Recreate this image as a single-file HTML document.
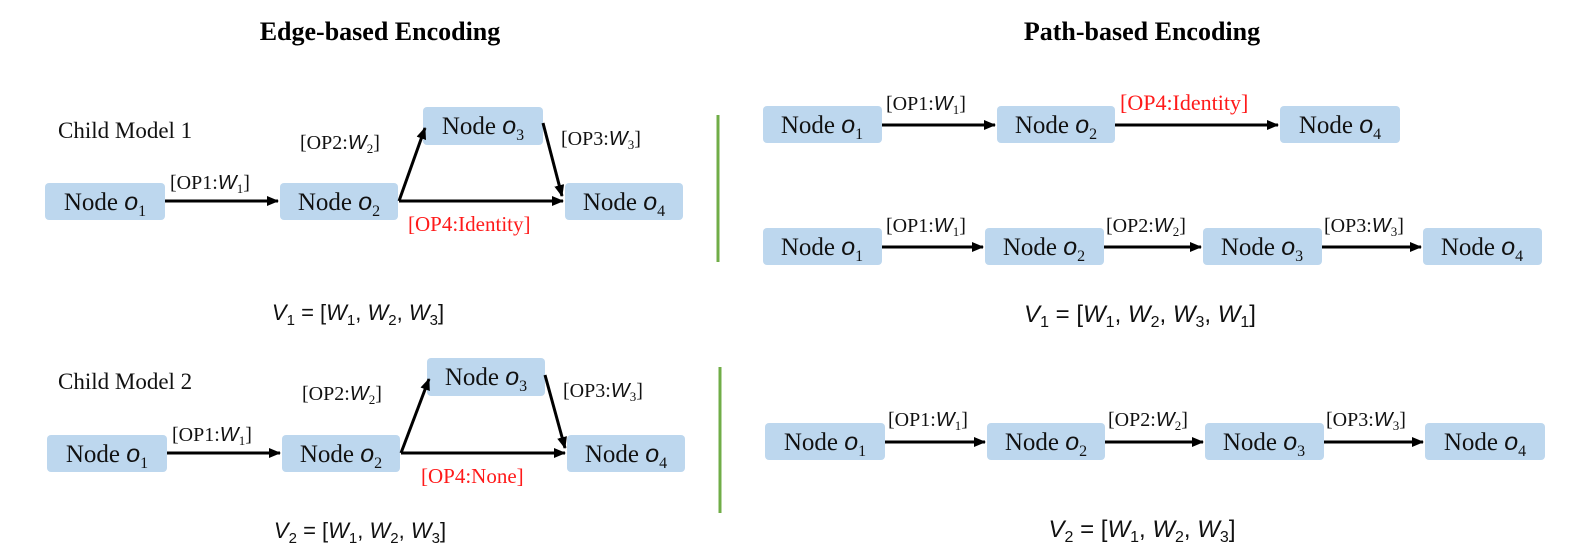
<!DOCTYPE html>
<html><head><meta charset="utf-8"><style>
html,body{margin:0;padding:0;background:#fff;}
svg{display:block;}
.n{font-family:"Liberation Serif",serif;font-size:25px;fill:#111;}
.i{font-family:"Liberation Sans",sans-serif;font-style:italic;}
.l{font-family:"Liberation Serif",serif;font-size:20px;fill:#111;}
.r{fill:#ff1a1a;}
.t{font-family:"Liberation Serif",serif;font-size:26px;font-weight:bold;fill:#000;}
.c{font-family:"Liberation Serif",serif;font-size:23px;fill:#111;}
.f{font-family:"Liberation Sans",sans-serif;font-size:22px;fill:#111;}
</style></head><body>
<svg width="1585" height="557" viewBox="0 0 1585 557" xmlns="http://www.w3.org/2000/svg">
<defs>
<marker id="a" markerWidth="12" markerHeight="10" refX="11" refY="5" orient="auto" markerUnits="userSpaceOnUse">
<path d="M0,0 L12,5 L0,10 z" fill="#000"/></marker>
</defs>
<g fill="#bdd7ee">
<rect x="45" y="183" width="120" height="37" rx="4"/>
<rect x="280" y="183" width="118" height="37" rx="4"/>
<rect x="423" y="107" width="120" height="38" rx="4"/>
<rect x="565" y="183" width="118" height="37" rx="4"/>
<rect x="47" y="435" width="120" height="37" rx="4"/>
<rect x="282" y="435" width="118" height="37" rx="4"/>
<rect x="427" y="358" width="118" height="38" rx="4"/>
<rect x="567" y="435" width="118" height="37" rx="4"/>
<rect x="763" y="106" width="119" height="37" rx="4"/>
<rect x="997" y="106" width="118" height="37" rx="4"/>
<rect x="1280" y="106" width="120" height="37" rx="4"/>
<rect x="763" y="228" width="119" height="37" rx="4"/>
<rect x="985" y="228" width="119" height="37" rx="4"/>
<rect x="1203" y="228" width="119" height="37" rx="4"/>
<rect x="1423" y="228" width="119" height="37" rx="4"/>
<rect x="765" y="423" width="120" height="37" rx="4"/>
<rect x="987" y="423" width="118" height="37" rx="4"/>
<rect x="1205" y="423" width="119" height="37" rx="4"/>
<rect x="1425" y="423" width="120" height="37" rx="4"/>
</g>

<g class="n" text-anchor="middle">
<text x="105" y="210">Node <tspan class="i">o</tspan><tspan font-size="16" dy="6">1</tspan></text>
<text x="339" y="210">Node <tspan class="i">o</tspan><tspan font-size="16" dy="6">2</tspan></text>
<text x="483" y="134">Node <tspan class="i">o</tspan><tspan font-size="16" dy="6">3</tspan></text>
<text x="624" y="210">Node <tspan class="i">o</tspan><tspan font-size="16" dy="6">4</tspan></text>
<text x="107" y="462">Node <tspan class="i">o</tspan><tspan font-size="16" dy="6">1</tspan></text>
<text x="341" y="462">Node <tspan class="i">o</tspan><tspan font-size="16" dy="6">2</tspan></text>
<text x="486" y="385">Node <tspan class="i">o</tspan><tspan font-size="16" dy="6">3</tspan></text>
<text x="626" y="462">Node <tspan class="i">o</tspan><tspan font-size="16" dy="6">4</tspan></text>
<text x="822" y="133">Node <tspan class="i">o</tspan><tspan font-size="16" dy="6">1</tspan></text>
<text x="1056" y="133">Node <tspan class="i">o</tspan><tspan font-size="16" dy="6">2</tspan></text>
<text x="1340" y="133">Node <tspan class="i">o</tspan><tspan font-size="16" dy="6">4</tspan></text>
<text x="822" y="255">Node <tspan class="i">o</tspan><tspan font-size="16" dy="6">1</tspan></text>
<text x="1044" y="255">Node <tspan class="i">o</tspan><tspan font-size="16" dy="6">2</tspan></text>
<text x="1262" y="255">Node <tspan class="i">o</tspan><tspan font-size="16" dy="6">3</tspan></text>
<text x="1482" y="255">Node <tspan class="i">o</tspan><tspan font-size="16" dy="6">4</tspan></text>
<text x="825" y="450">Node <tspan class="i">o</tspan><tspan font-size="16" dy="6">1</tspan></text>
<text x="1046" y="450">Node <tspan class="i">o</tspan><tspan font-size="16" dy="6">2</tspan></text>
<text x="1264" y="450">Node <tspan class="i">o</tspan><tspan font-size="16" dy="6">3</tspan></text>
<text x="1485" y="450">Node <tspan class="i">o</tspan><tspan font-size="16" dy="6">4</tspan></text>
</g>

<g stroke="#000" stroke-width="3" fill="none" marker-end="url(#a)">
<line x1="165" y1="201" x2="278" y2="201"/>
<line x1="399" y1="201" x2="425" y2="128"/>
<line x1="543" y1="123" x2="562" y2="196"/>
<line x1="399" y1="201" x2="563" y2="201"/>
<line x1="167" y1="453" x2="280" y2="453"/>
<line x1="401" y1="453" x2="429" y2="379"/>
<line x1="545" y1="375" x2="565" y2="448"/>
<line x1="401" y1="453" x2="565" y2="453"/>
<line x1="882" y1="125" x2="995" y2="125"/>
<line x1="1115" y1="125" x2="1278" y2="125"/>
<line x1="882" y1="247" x2="983" y2="247"/>
<line x1="1104" y1="247" x2="1201" y2="247"/>
<line x1="1322" y1="247" x2="1421" y2="247"/>
<line x1="885" y1="442" x2="985" y2="442"/>
<line x1="1105" y1="442" x2="1203" y2="442"/>
<line x1="1324" y1="442" x2="1423" y2="442"/>
</g>

<g class="l">
<text x="170" y="189">[OP1:<tspan class="i">W</tspan><tspan font-size="13" dy="4">1</tspan><tspan dy="-4">]</tspan></text>
<text x="300" y="149">[OP2:<tspan class="i">W</tspan><tspan font-size="13" dy="4">2</tspan><tspan dy="-4">]</tspan></text>
<text x="561" y="145">[OP3:<tspan class="i">W</tspan><tspan font-size="13" dy="4">3</tspan><tspan dy="-4">]</tspan></text>
<text x="408" y="231" class="r" font-size="21">[OP4:Identity]</text>
<text x="172" y="441">[OP1:<tspan class="i">W</tspan><tspan font-size="13" dy="4">1</tspan><tspan dy="-4">]</tspan></text>
<text x="302" y="400">[OP2:<tspan class="i">W</tspan><tspan font-size="13" dy="4">2</tspan><tspan dy="-4">]</tspan></text>
<text x="563" y="397">[OP3:<tspan class="i">W</tspan><tspan font-size="13" dy="4">3</tspan><tspan dy="-4">]</tspan></text>
<text x="421" y="483" class="r" font-size="21">[OP4:None]</text>
<text x="886" y="110">[OP1:<tspan class="i">W</tspan><tspan font-size="13" dy="4">1</tspan><tspan dy="-4">]</tspan></text>
<text x="1120" y="110" class="r" font-size="22">[OP4:Identity]</text>
<text x="886" y="232">[OP1:<tspan class="i">W</tspan><tspan font-size="13" dy="4">1</tspan><tspan dy="-4">]</tspan></text>
<text x="1106" y="232">[OP2:<tspan class="i">W</tspan><tspan font-size="13" dy="4">2</tspan><tspan dy="-4">]</tspan></text>
<text x="1324" y="232">[OP3:<tspan class="i">W</tspan><tspan font-size="13" dy="4">3</tspan><tspan dy="-4">]</tspan></text>
<text x="888" y="426">[OP1:<tspan class="i">W</tspan><tspan font-size="13" dy="4">1</tspan><tspan dy="-4">]</tspan></text>
<text x="1108" y="426">[OP2:<tspan class="i">W</tspan><tspan font-size="13" dy="4">2</tspan><tspan dy="-4">]</tspan></text>
<text x="1326" y="426">[OP3:<tspan class="i">W</tspan><tspan font-size="13" dy="4">3</tspan><tspan dy="-4">]</tspan></text>
</g>

<text class="t" x="380" y="40" text-anchor="middle">Edge-based Encoding</text>
<text class="t" x="1142" y="40" text-anchor="middle">Path-based Encoding</text>
<text class="c" x="58" y="138">Child Model 1</text>
<text class="c" x="58" y="389">Child Model 2</text>

<g class="f" text-anchor="middle">
<text x="358" y="320"><tspan font-style="italic">V</tspan><tspan font-size="15" dy="5">1</tspan><tspan dy="-5"> = [</tspan><tspan font-style="italic">W</tspan><tspan font-size="15" dy="5">1</tspan><tspan dy="-5">, </tspan><tspan font-style="italic">W</tspan><tspan font-size="15" dy="5">2</tspan><tspan dy="-5">, </tspan><tspan font-style="italic">W</tspan><tspan font-size="15" dy="5">3</tspan><tspan dy="-5">]</tspan></text>
<text x="360" y="538"><tspan font-style="italic">V</tspan><tspan font-size="15" dy="5">2</tspan><tspan dy="-5"> = [</tspan><tspan font-style="italic">W</tspan><tspan font-size="15" dy="5">1</tspan><tspan dy="-5">, </tspan><tspan font-style="italic">W</tspan><tspan font-size="15" dy="5">2</tspan><tspan dy="-5">, </tspan><tspan font-style="italic">W</tspan><tspan font-size="15" dy="5">3</tspan><tspan dy="-5">]</tspan></text>
<text x="1140" y="322" font-size="24"><tspan font-style="italic">V</tspan><tspan font-size="16" dy="5">1</tspan><tspan dy="-5"> = [</tspan><tspan font-style="italic">W</tspan><tspan font-size="16" dy="5">1</tspan><tspan dy="-5">, </tspan><tspan font-style="italic">W</tspan><tspan font-size="16" dy="5">2</tspan><tspan dy="-5">, </tspan><tspan font-style="italic">W</tspan><tspan font-size="16" dy="5">3</tspan><tspan dy="-5">, </tspan><tspan font-style="italic">W</tspan><tspan font-size="16" dy="5">1</tspan><tspan dy="-5">]</tspan></text>
<text x="1142" y="537" font-size="24"><tspan font-style="italic">V</tspan><tspan font-size="16" dy="5">2</tspan><tspan dy="-5"> = [</tspan><tspan font-style="italic">W</tspan><tspan font-size="16" dy="5">1</tspan><tspan dy="-5">, </tspan><tspan font-style="italic">W</tspan><tspan font-size="16" dy="5">2</tspan><tspan dy="-5">, </tspan><tspan font-style="italic">W</tspan><tspan font-size="16" dy="5">3</tspan><tspan dy="-5">]</tspan></text>
</g>

<line x1="718" y1="115" x2="718" y2="262" stroke="#70ad47" stroke-width="3"/>
<line x1="720" y1="367" x2="720" y2="513" stroke="#70ad47" stroke-width="3"/>
</svg>
</body></html>
